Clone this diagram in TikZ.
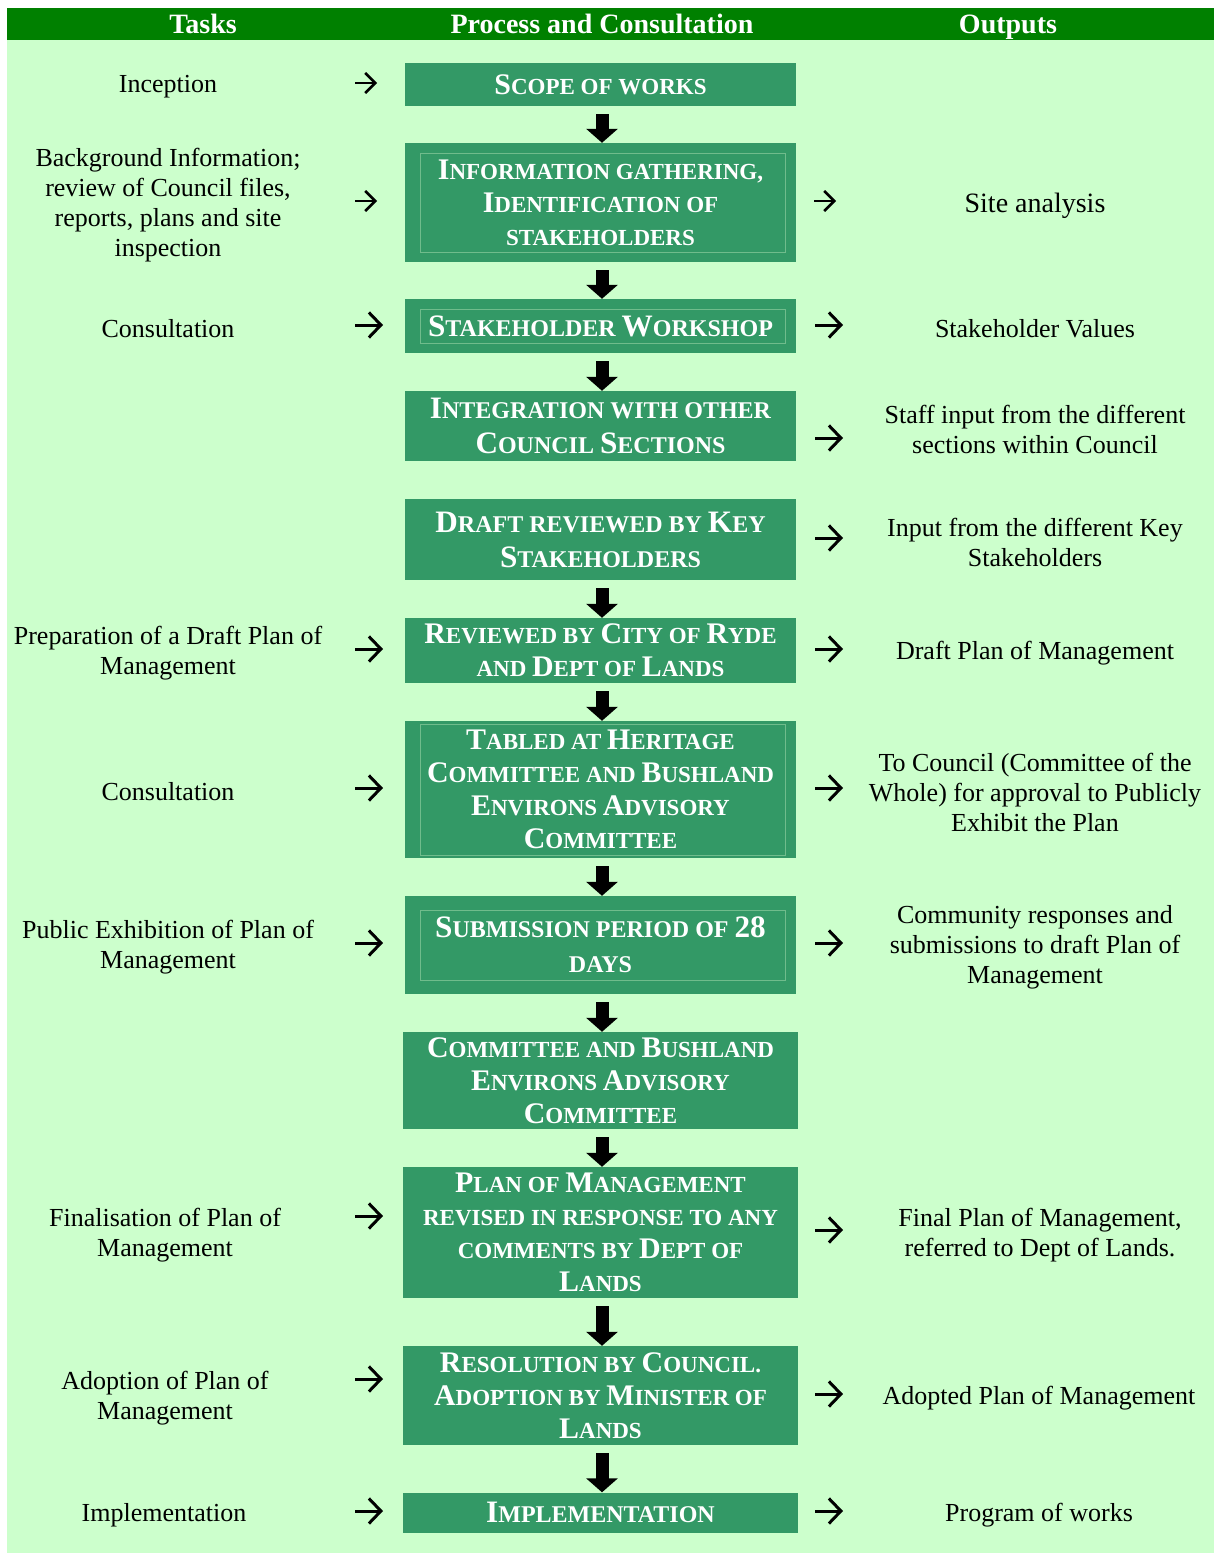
\documentclass[tikz,border=0pt]{standalone}
\usepackage{fontspec}
\setmainfont{Liberation Serif}
\usepackage{graphicx}
\usetikzlibrary{arrows.meta}
\definecolor{headgreen}{RGB}{0,128,0}
\definecolor{paleback}{RGB}{204,255,204}
\definecolor{boxgreen}{RGB}{51,153,102}
\definecolor{rimgreen}{RGB}{112,188,140}
\newcommand{\Ini}[1]{\scalebox{1.3}{#1}}
\tikzset{
    head/.style = {text=white, anchor=base, font=\bfseries\fontsize{28}{30}\selectfont},
    block/.style = {fill=boxgreen, text=white, align=center,
        inner sep=0pt, minimum width=391pt,
        font=\bfseries\fontsize{23}{33}\selectfont},
    bigblock/.style = {block, font=\bfseries\fontsize{24}{35}\selectfont},
    task/.style = {align=center, font=\fontsize{26}{30}\selectfont},
    flow/.style = {draw, line width=13pt, -{Triangle[width=31pt,length=14pt]}},
    pointer/.style = {draw, line width=3pt, -{Straight Barb[length=12pt,width=25pt]}},
    smallpointer/.style = {draw, line width=2.5pt, -{Straight Barb[length=10pt,width=20pt]}},
    rim/.style = {draw=rimgreen, line width=0.6pt}
}

\begin{document}
\begin{tikzpicture}[x=1pt, y=-1pt]
                \useasboundingbox (0,0) rectangle (1214,1555);
                \fill[paleback] (7,40) rectangle (1214,1553);
                \fill[headgreen] (7,8) rectangle (1214,40);
                \node[head] (h1) at (203,34) {Tasks};
                \node[head] (h2) at (602,34) {Process and Consultation};
                \node[head] (h3) at (1008,34) {Outputs};
                % process column
                \node[block, minimum height=43pt] (b1) at (600.5,84.5) {\Ini{S}COPE OF WORKS};
                \node[block, minimum height=119pt] (b2) at (600.5,202.5) {\Ini{I}NFORMATION GATHERING,\\ \Ini{I}DENTIFICATION OF\\ STAKEHOLDERS};
                \node[bigblock, minimum height=54pt] (b3) at (600.5,326) {\Ini{S}TAKEHOLDER \Ini{W}ORKSHOP};
                \node[bigblock, minimum height=70pt] (b4) at (600.5,426) {\Ini{I}NTEGRATION WITH OTHER\\ \Ini{C}OUNCIL \Ini{S}ECTIONS};
                \node[bigblock, minimum height=81pt] (b5) at (600.5,539.5) {\Ini{D}RAFT REVIEWED BY \Ini{K}EY\\ \Ini{S}TAKEHOLDERS};
                \node[block, minimum height=65pt] (b6) at (600.5,650.5) {\Ini{R}EVIEWED BY \Ini{C}ITY OF \Ini{R}YDE\\ AND \Ini{D}EPT OF \Ini{L}ANDS};
                \node[block, minimum height=137pt] (b7) at (600.5,789.5) {\Ini{T}ABLED AT \Ini{H}ERITAGE\\ \Ini{C}OMMITTEE AND \Ini{B}USHLAND\\ \Ini{E}NVIRONS \Ini{A}DVISORY\\ \Ini{C}OMMITTEE};
                \node[bigblock, minimum height=98pt] (b8) at (600.5,945) {\Ini{S}UBMISSION PERIOD OF \Ini{28}\\ DAYS};
                \node[block, minimum height=97pt, minimum width=395pt] (b9) at (600.5,1080.5) {\Ini{C}OMMITTEE AND \Ini{B}USHLAND\\ \Ini{E}NVIRONS \Ini{A}DVISORY\\ \Ini{C}OMMITTEE};
                \node[block, minimum height=131pt, minimum width=395pt] (b10) at (600.5,1232.5) {\Ini{P}LAN OF \Ini{M}ANAGEMENT\\ REVISED IN RESPONSE TO ANY\\ COMMENTS BY \Ini{D}EPT OF\\ \Ini{L}ANDS};
                \node[block, minimum height=99pt, minimum width=395pt] (b11) at (600.5,1395.5) {\Ini{R}ESOLUTION BY \Ini{C}OUNCIL.\\ \Ini{A}DOPTION BY \Ini{M}INISTER OF\\ \Ini{L}ANDS};
                \node[bigblock, minimum height=40pt, minimum width=395pt] (b12) at (600.5,1512.5) {\Ini{I}MPLEMENTATION};
                \foreach \b/\t in {b2/10,b3/10,b7/3,b8/14}
                    \draw[rim] ([shift={(15pt,-\t pt)}]\b.north west) rectangle ([shift={(-11pt,\t pt)}]\b.south east);
                \foreach \a/\b in {b1/b2,b2/b3,b3/b4,b5/b6,b6/b7,b7/b8,b8/b9,b9/b10,b10/b11,b11/b12}
                    \draw[flow] ([xshift=1.5pt,yshift=-8pt]\a.south) -- ([xshift=1.5pt]\b.north);
                % tasks column
                \node[task] (t1) at (168,87) {Inception};
                \node[task] (t2) at (168,205) {Background Information;\\ review of Council files,\\ reports, plans and site\\ inspection};
                \node[task] (t3) at (168,329) {Consultation};
                \node[task] (t4) at (168,653) {Preparation of a Draft Plan of\\ Management};
                \node[task] (t5) at (168,792) {Consultation};
                \node[task] (t6) at (168,947) {Public Exhibition of Plan of\\ Management};
                \node[task] (t7) at (165,1235) {Finalisation of Plan of\\ Management};
                \node[task] (t8) at (165,1398) {Adoption of Plan of\\ Management};
                \node[task] (t9) at (164,1515) {Implementation};
                % outputs column
                \node[task, font=\fontsize{28}{30}\selectfont] (o1) at (1035,206) {Site analysis};
                \node[task] (o2) at (1035,329) {Stakeholder Values};
                \node[task] (o3) at (1035,429) {Staff input from the different\\ sections within Council};
                \node[task] (o4) at (1035,542) {Input from the different Key\\ Stakeholders};
                \node[task] (o5) at (1035,653) {Draft Plan of Management};
                \node[task] (o6) at (1035,792) {To Council (Committee of the\\ Whole) for approval to Publicly\\ Exhibit the Plan};
                \node[task] (o7) at (1035,947) {Community responses and\\ submissions to draft Plan of\\ Management};
                \node[task] (o8) at (1040,1235) {Final Plan of Management,\\ referred to Dept of Lands.};
                \node[task] (o9) at (1039,1398) {Adopted Plan of Management};
                \node[task] (o10) at (1039,1515) {Program of works};
                % small arrows between columns
                \foreach \n/\y in {1/83,2/201} {
                    \coordinate (lp\n) at (366,\y);
                    \draw[smallpointer] ([xshift=-11pt]lp\n) -- ([xshift=11pt]lp\n);
                }
                \foreach \y [count=\n from 3] in {325,649,788,943,1216,1379,1511} {
                    \coordinate (lp\n) at (369,\y);
                    \draw[pointer] ([xshift=-14pt]lp\n) -- ([xshift=14pt]lp\n);
                }
                \coordinate (rp1) at (825,201);
                \draw[smallpointer] ([xshift=-11pt]rp1) -- ([xshift=11pt]rp1);
                \foreach \y [count=\n from 2] in {325,438,538,649,788,943,1230,1394,1511} {
                    \coordinate (rp\n) at (829,\y);
                    \draw[pointer] ([xshift=-14pt]rp\n) -- ([xshift=14pt]rp\n);
                }
            \end{tikzpicture}
\end{document}
